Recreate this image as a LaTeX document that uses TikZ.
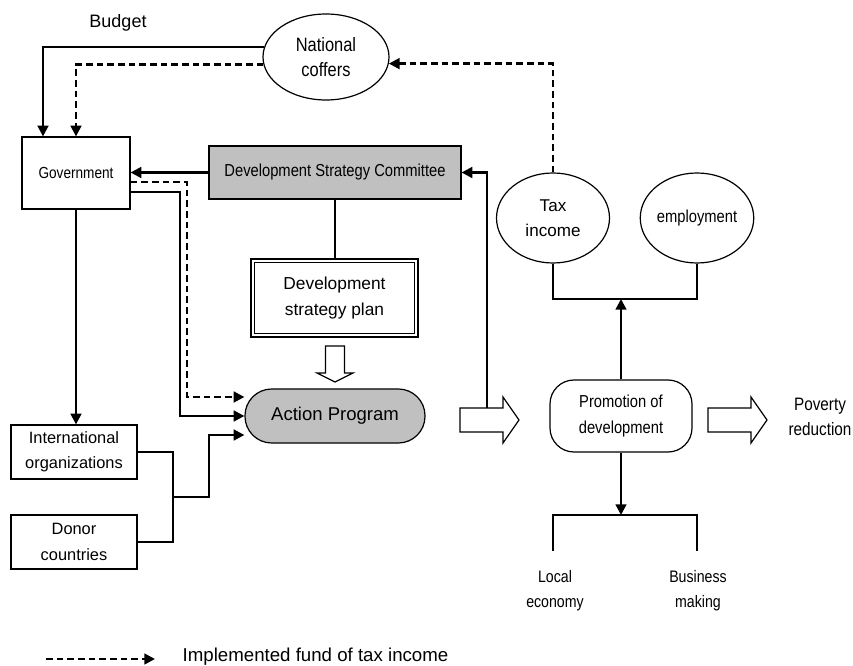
\documentclass[tikz,border=0pt]{standalone}
\usepackage{fontspec}
\setmainfont{Liberation Sans}
\newfontfamily\narrowsans[FakeStretch=0.85]{Liberation Sans}
\usetikzlibrary{arrows.meta,shapes.geometric}
\definecolor{boxgray}{RGB}{192,192,192}

\tikzset{
  thinline/.style={line width=0.9pt},
  boxline/.style={draw, line width=0.9pt},
  tip/.style={-{Triangle[length=8pt,width=8pt]}},
  flow/.style={line width=1.8pt, tip},
  fund/.style={line width=1.8pt, dash pattern=on 5pt off 3pt, tip},
  hollow/.style={draw, fill=white, line width=0.9pt, line join=miter},
  lbl/.style={align=center, font=\fontsize{#1}{19pt}\selectfont},
  nlbl/.style={align=center, font=\narrowsans\fontsize{#1}{19pt}\selectfont},
}

\begin{document}
\begin{tikzpicture}[x=0.75pt, y=-0.75pt]
\useasboundingbox (0,0) rectangle (853,666);

% --- nodes ---
\node[boxline, ellipse, minimum width=94.5pt, minimum height=64.5pt, nlbl=14.5] (coffers) at (326,57) {National\\coffers};
\node[lbl=13.5] (budget) at (118,23) {Budget};
\node[boxline, minimum width=81pt, minimum height=54pt, nlbl=12] (gov) at (76,173) {Government};
\node[boxline, fill=boxgray, minimum width=189pt, minimum height=39.75pt, nlbl=13] (dsc) at (335,172.5) {Development Strategy Committee};
\node[draw, line width=2pt, minimum width=125.25pt, minimum height=58.5pt, lbl=13] (plan) at (334.5,298) {Development\\strategy plan};
\draw[thinline] ([shift={(3.6pt,-3.6pt)}]plan.north west) rectangle ([shift={(-3.6pt,3.6pt)}]plan.south east);
\node[boxline, fill=boxgray, rounded corners=20pt, minimum width=135pt, minimum height=40.5pt, lbl=13.9] (ap) at (335,416) {Action Program};
\node[boxline, minimum width=94.5pt, minimum height=40.5pt, lbl=12.3] (intl) at (74,452) {International\\organizations};
\node[boxline, minimum width=94.5pt, minimum height=40.5pt, lbl=12.3] (donor) at (74,542) {Donor\\countries};
\node[boxline, ellipse, inner sep=0pt, minimum width=84.75pt, minimum height=67.5pt, lbl=12.8] (tax) at (553,218) {Tax\\income};
\node[boxline, ellipse, inner sep=0pt, minimum width=84pt, minimum height=67.5pt, nlbl=13] (emp) at (697,218) {employment};
\node[boxline, rounded corners=18pt, minimum width=106.5pt, minimum height=54pt, nlbl=13] (promo) at (621,416) {Promotion of\\development};
\node[nlbl=13.5] (pov) at (820,417) {Poverty\\reduction};
\node[nlbl=12.5] (loc) at (555,591) {Local\\economy};
\node[nlbl=12.5] (biz) at (698,591) {Business\\making};
\node[lbl=14, anchor=west] (legend) at (178,657) {Implemented fund of tax income};

% --- helper points ---
\coordinate (merge) at (173,497);
\coordinate (feed) at (487,408);
\coordinate (split) at (622,299);
\coordinate (fork) at (621,515);
\coordinate (locend) at (553,551);
\coordinate (bizend) at (697,551);
\coordinate (lgA) at (46,659);
\coordinate (lgB) at (155,659);

% --- budget and tax flows ---
\draw[flow] (coffers.171) -| ([xshift=-24.75pt]gov.north);
\draw[fund] (coffers.187) -| (gov.north);
\draw[fund] (tax.north) |- (coffers.354);

% --- government side ---
\draw[flow] (dsc.west) -- (dsc.west -| gov.east);
\draw[fund] ([yshift=-6.75pt]gov.east) -| (187,397) -- ([yshift=14.25pt]ap.west);
\draw[flow] ([yshift=-14.25pt]gov.east) -| (180,416) -- (ap.west);
\draw[flow] (gov.south) -- (gov.south |- intl.north);
\draw[thinline] (intl.east) -| (merge) |- (donor.east);
\draw[flow] (merge) -- (209,497) |- ([yshift=-14.25pt]ap.west);
\draw[thinline] (dsc.south) -- (dsc.south |- plan.north);

% --- block arrows ---
\draw[hollow] (325.5,346) -- (344.5,346) -- (344.5,373) -- (353,373) -- (335,382) -- (317,373) -- (325.5,373) -- cycle;
\draw[hollow] (460,408) -- (503,408) -- (503,397) -- (519,420) -- (503,443) -- (503,432) -- (460,432) -- cycle;
\draw[hollow] (708,408) -- (751,408) -- (751,397) -- (767,420) -- (751,443) -- (751,432) -- (708,432) -- cycle;

% --- promotion side ---
\draw[flow] (feed) |- (dsc.east);
\draw[thinline] (tax.south) |- (split) -| (emp.south);
\draw[flow] (promo.north) -- (promo.north |- split);
\draw[flow] (promo.south) -- (fork);
\draw[thinline] (locend) |- (fork) -| (bizend);

% --- legend ---
\draw[fund] (lgA) -- (lgB);
\end{tikzpicture}
\end{document}
